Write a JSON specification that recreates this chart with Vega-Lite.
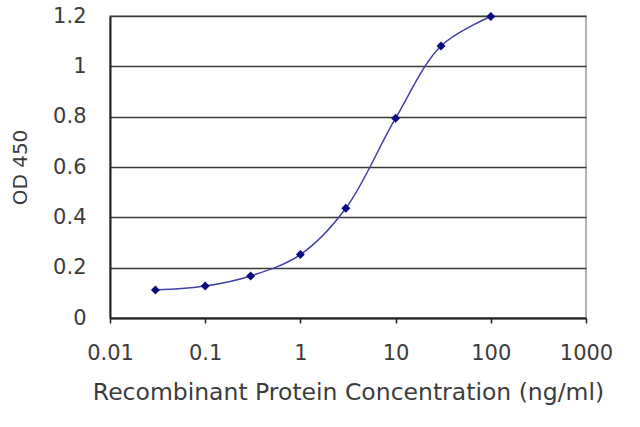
{
  "$schema": "https://vega.github.io/schema/vega-lite/v6.json",
  "autosize": "none",
  "width": 476,
  "height": 302,
  "padding": {"left": 110, "top": 16, "right": 54, "bottom": 109},
  "background": "white",
  "data": {
    "values": [
      {"conc": 0.03, "od": 0.111},
      {"conc": 0.1, "od": 0.127},
      {"conc": 0.3, "od": 0.167},
      {"conc": 1, "od": 0.252},
      {"conc": 3, "od": 0.436},
      {"conc": 10, "od": 0.794},
      {"conc": 30, "od": 1.081},
      {"conc": 100, "od": 1.198}
    ]
  },
  "encoding": {
    "x": {
      "field": "conc",
      "type": "quantitative",
      "title": "Recombinant Protein Concentration (ng/ml)",
      "scale": {"type": "log", "domain": [0.01, 1000], "nice": false},
      "axis": {
        "values": [0.01, 0.1, 1, 10, 100, 1000],
        "labelExpr": "datum.value < 1 ? format(datum.value, '.2~f') : format(datum.value, 'd')",
        "grid": false,
        "labelFlush": false,
        "tickSize": 5,
        "labelPadding": 19,
        "titlePadding": 17,
        "titleFontSize": 23.5
      }
    },
    "y": {
      "field": "od",
      "type": "quantitative",
      "title": "OD 450",
      "scale": {"domain": [0, 1.2], "nice": false},
      "axis": {
        "values": [0, 0.2, 0.4, 0.6, 0.8, 1, 1.2],
        "format": "~g",
        "grid": true,
        "labelFlush": false,
        "tickSize": 0,
        "labelPadding": 24,
        "titlePadding": 22,
        "titleFontSize": 20
      }
    }
  },
  "layer": [
    {
      "mark": {"type": "line", "interpolate": "catmull-rom", "color": "#4040a8", "strokeWidth": 1.5}
    },
    {
      "mark": {"type": "point", "shape": "diamond", "filled": true, "color": "#0a0a80", "size": 80, "opacity": 1}
    }
  ],
  "config": {
    "view": {"stroke": "#9a9a9a", "strokeWidth": 1.5},
    "axis": {
      "labelFont": "DejaVu Sans",
      "titleFont": "DejaVu Sans",
      "labelFontSize": 21,
      "titleFontSize": 21,
      "titleFontWeight": "normal",
      "labelColor": "#3c3c3c",
      "titleColor": "#3c3c3c",
      "domainColor": "#222222",
      "domainWidth": 2,
      "tickColor": "#222222",
      "tickWidth": 1.5,
      "gridColor": "#3a3a3a",
      "gridWidth": 1.5,
      "gridOpacity": 1
    }
  }
}
